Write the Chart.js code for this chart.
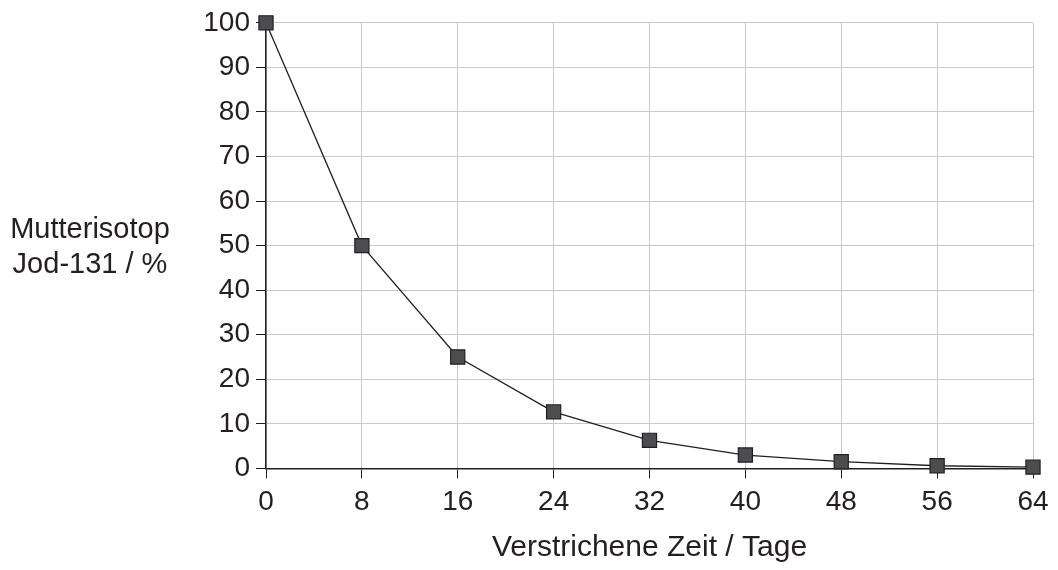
<!DOCTYPE html>
<html>
<head>
<meta charset="utf-8">
<script src="https://cdn.jsdelivr.net/npm/chart.js@4"></script>
<style>
    html, body { margin: 0; padding: 0; background: #fff; }
    #wrap { width: 1058px; height: 570px; }
</style>
</head>
<body>
<div id="wrap"><canvas id="chart" width="1058" height="570"></canvas></div>
<script>
// Zerfall von Jod-131 (Halbwertszeit ~8 Tage)
const days = [0, 8, 16, 24, 32, 40, 48, 56, 64];
const percent = [100, 50, 25, 12.7, 6.3, 3.0, 1.5, 0.6, 0.3];

const xTitle = 'Verstrichene Zeit / Tage';
const yTitleLines = ['Mutterisotop', 'Jod-131 / %'];

const fontFamily = '"Liberation Sans", Arial, sans-serif';
const dark = '#231f20';
const gridGray = '#c8c8c8';

// y-Achsentitel steht waagerecht links, das kann Chart.js nicht selbst
const sideTitle = {
    id: 'sideTitle',
    afterDraw(chart) {
        const ctx = chart.ctx;
        ctx.save();
        ctx.fillStyle = dark;
        ctx.font = '29px ' + fontFamily;
        ctx.textAlign = 'center';
        ctx.textBaseline = 'alphabetic';
        ctx.fillText(yTitleLines[0], 90, 238);
        ctx.fillText(yTitleLines[1], 90, 273);
        ctx.restore();
    }
};

const ctx = document.getElementById('chart').getContext('2d');
new Chart(ctx, {
    type: 'line',
    data: {
        datasets: [{
            data: days.map((d, i) => ({x: d, y: percent[i]})),
            borderColor: dark,
            borderWidth: 1.3,
            tension: 0,
            clip: false,
            pointStyle: 'rect',
            pointRadius: 10,
            pointBackgroundColor: '#4d4d4f',
            pointBorderColor: dark,
            pointBorderWidth: 1.2,
        }]
    },
    options: {
        responsive: false,
        animation: false,
        layout: {padding: {left: 180, top: 2, right: 25, bottom: 0}},
        plugins: {legend: {display: false}, tooltip: {enabled: false}},
        scales: {
            x: {
                type: 'linear',
                min: 0,
                max: 64,
                ticks: {stepSize: 8, color: dark, font: {size: 28, family: fontFamily}, padding: 7},
                grid: {color: gridGray, tickColor: dark, tickLength: 10},
                border: {color: dark, width: 1.5},
                title: {display: true, text: xTitle, color: dark, font: {size: 30, family: fontFamily}, padding: {top: 4}}
            },
            y: {
                min: 0,
                max: 100,
                afterFit: scale => { scale.width = 86; },
                ticks: {stepSize: 10, color: dark, font: {size: 28, family: fontFamily}, padding: 6},
                grid: {color: gridGray, tickColor: dark, tickLength: 10},
                border: {color: dark, width: 1.5}
            }
        }
    },
    plugins: [sideTitle]
});
</script>
</body>
</html>
